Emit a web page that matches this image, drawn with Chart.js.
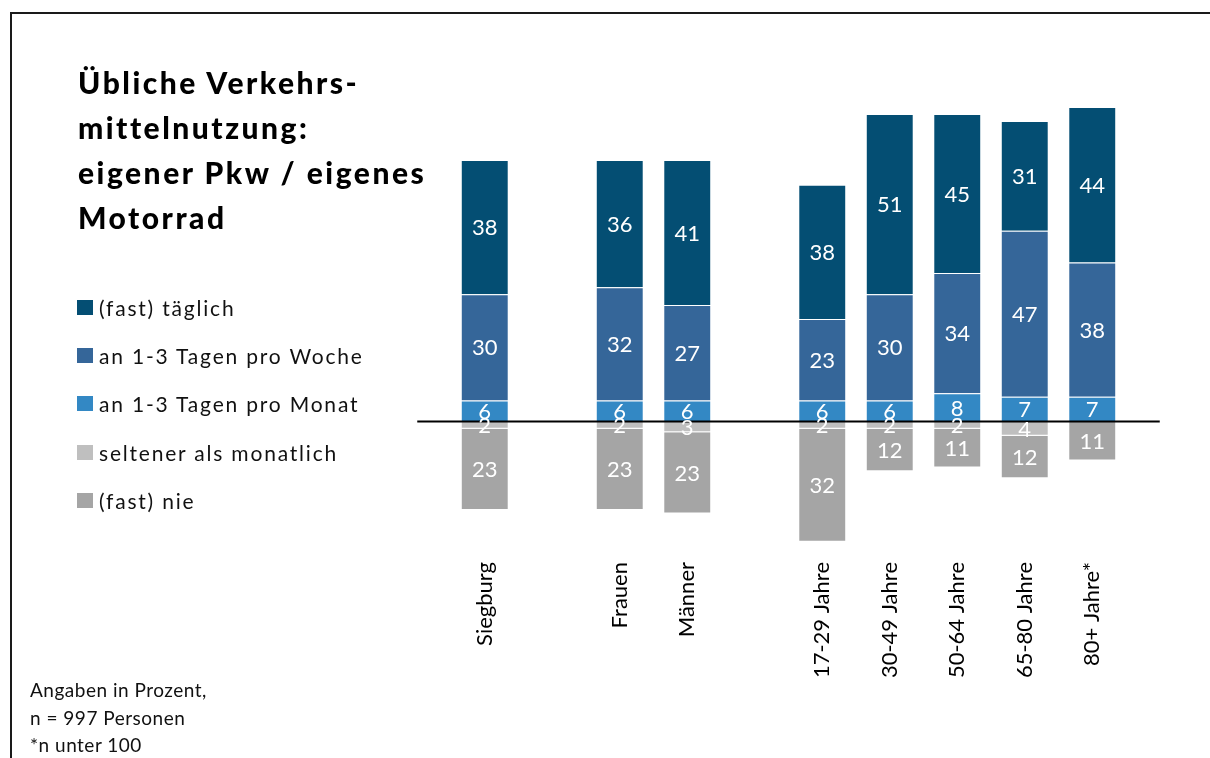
<!DOCTYPE html>
<html>
<head>
<meta charset="utf-8">
<script src="https://cdn.jsdelivr.net/npm/chart.js@4.4.1/dist/chart.umd.min.js"></script>
<style>
  html, body { margin: 0; padding: 0; background: #fff; }
  #wrap { position: relative; width: 1210px; height: 758px; overflow: hidden; background: #fff; }
  #frame { position: absolute; left: 10px; top: 12px; width: 1400px; height: 900px; border-left: 2px solid #1a1a1a; border-top: 2px solid #1a1a1a; }
  #c { position: absolute; left: 0; top: 0; }
  #title { position: absolute; left: 78px; top: 60px; font-family: Lato, sans-serif; font-weight: 900; font-size: 30px; line-height: 45px; letter-spacing: 2.5px; color: #000; white-space: nowrap; }
  #legend { position: absolute; left: 77px; top: 283px; font-family: Lato, sans-serif; font-size: 21px; color: #111; letter-spacing: 1.8px; }
  .li { height: 48.3px; display: flex; align-items: center; white-space: nowrap; }
  .sw { width: 16px; height: 15px; margin-right: 6px; flex: none; }
  #note { position: absolute; left: 30px; top: 676px; font-family: Lato, sans-serif; font-size: 19px; line-height: 27.5px; letter-spacing: 0.5px; color: #111; white-space: nowrap; }
</style>
</head>
<body>
<div id="wrap">
  <div id="frame"></div>
  <canvas id="c" width="1210" height="758"></canvas>
  <div id="title">Übliche Verkehrs-<br>mittelnutzung:<br>eigener Pkw / eigenes<br>Motorrad</div>
  <div id="legend"></div>
  <div id="note">Angaben in Prozent,<br>n = 997 Personen<br>*n unter 100</div>
</div>
<script>
// ---- data ----
const categories = ["Siegburg", "", "Frauen", "Männer", "", "17-29 Jahre", "30-49 Jahre", "50-64 Jahre", "65-80 Jahre", "80+ Jahre*"];
const seriesNames = ["(fast) täglich", "an 1-3 Tagen pro Woche", "an 1-3 Tagen pro Monat", "seltener als monatlich", "(fast) nie"];
const taeglich = [38, null, 36, 41, null, 38, 51, 45, 31, 44];
const woche    = [30, null, 32, 27, null, 23, 30, 34, 47, 38];
const monat    = [6, null, 6, 6, null, 6, 6, 8, 7, 7];
const seltener = [-2, null, -2, -3, null, -2, -2, -2, -4, 0];
const nie      = [-23, null, -23, -23, null, -32, -12, -11, -12, -11];

const colors = ["#044E73", "#356699", "#3388C4", "#BFBFBF", "#A5A5A5"];

// stacking order: positive from zero upward, negative from zero downward
const datasets = [
  { label: seriesNames[2], data: monat,    backgroundColor: colors[2] },
  { label: seriesNames[1], data: woche,    backgroundColor: colors[1] },
  { label: seriesNames[0], data: taeglich, backgroundColor: colors[0] },
  { label: seriesNames[3], data: seltener, backgroundColor: colors[3] },
  { label: seriesNames[4], data: nie,      backgroundColor: colors[4] }
].map(d => Object.assign(d, {
  borderColor: "rgba(255,255,255,0.35)",
  borderWidth: 1,
  barPercentage: 0.71,
  categoryPercentage: 1.0,
  stack: "s"
}));

const zeroLine = {
  id: "zeroLine",
  afterDatasetsDraw(chart) {
    const { ctx, chartArea, scales } = chart;
    const y = scales.y.getPixelForValue(0);
    const half = (scales.x.getPixelForValue(1) - scales.x.getPixelForValue(0)) / 2;
    ctx.save();
    ctx.strokeStyle = "#000";
    ctx.lineWidth = 2;
    ctx.beginPath();
    ctx.moveTo(chartArea.left - half, y);
    ctx.lineTo(chartArea.right + half, y);
    ctx.stroke();
    ctx.restore();
  }
};

const valueLabels = {
  id: "valueLabels",
  afterDatasetsDraw(chart) {
    const { ctx } = chart;
    ctx.save();
    ctx.fillStyle = "#fff";
    ctx.font = "22px Lato, sans-serif";
    ctx.textAlign = "center";
    ctx.textBaseline = "middle";
    chart.data.datasets.forEach((ds, i) => {
      const meta = chart.getDatasetMeta(i);
      meta.data.forEach((el, j) => {
        const v = ds.data[j];
        if (v === null || v === 0) return;
        const p = el.getProps(["x", "y", "base"], true);
        ctx.fillText(String(Math.abs(v)), p.x, (p.y + p.base) / 2 + 1);
      });
    });
    ctx.restore();
  }
};

const chart = new Chart(document.getElementById("c"), {
  type: "bar",
  data: { labels: categories, datasets },
  options: {
    responsive: false,
    animation: false,
    layout: { padding: { left: 451, right: 84, top: 68, bottom: 0 } },
    plugins: { legend: { display: false }, tooltip: { enabled: false }, title: { display: false } },
    scales: {
      x: {
        stacked: true,
        grid: { display: false, drawTicks: false },
        border: { display: false },
        ticks: {
          autoSkip: false, minRotation: 90, maxRotation: 90, padding: 6,
          color: "#000", font: { family: "Lato, sans-serif", size: 22 }
        },
        afterFit(scale) { scale.height = 202; }
      },
      y: {
        stacked: true, display: false, min: -38, max: 100
      }
    }
  },
  plugins: [zeroLine, valueLabels]
});

// HTML legend built from the chart's datasets, in reading order
const legendOrder = [2, 1, 0, 3, 4];
const leg = document.getElementById("legend");
legendOrder.forEach(i => {
  const ds = chart.data.datasets[i];
  const row = document.createElement("div");
  row.className = "li";
  const sw = document.createElement("span");
  sw.className = "sw";
  sw.style.background = ds.backgroundColor;
  const tx = document.createElement("span");
  tx.textContent = ds.label;
  row.appendChild(sw); row.appendChild(tx);
  leg.appendChild(row);
});
</script>
</body>
</html>
